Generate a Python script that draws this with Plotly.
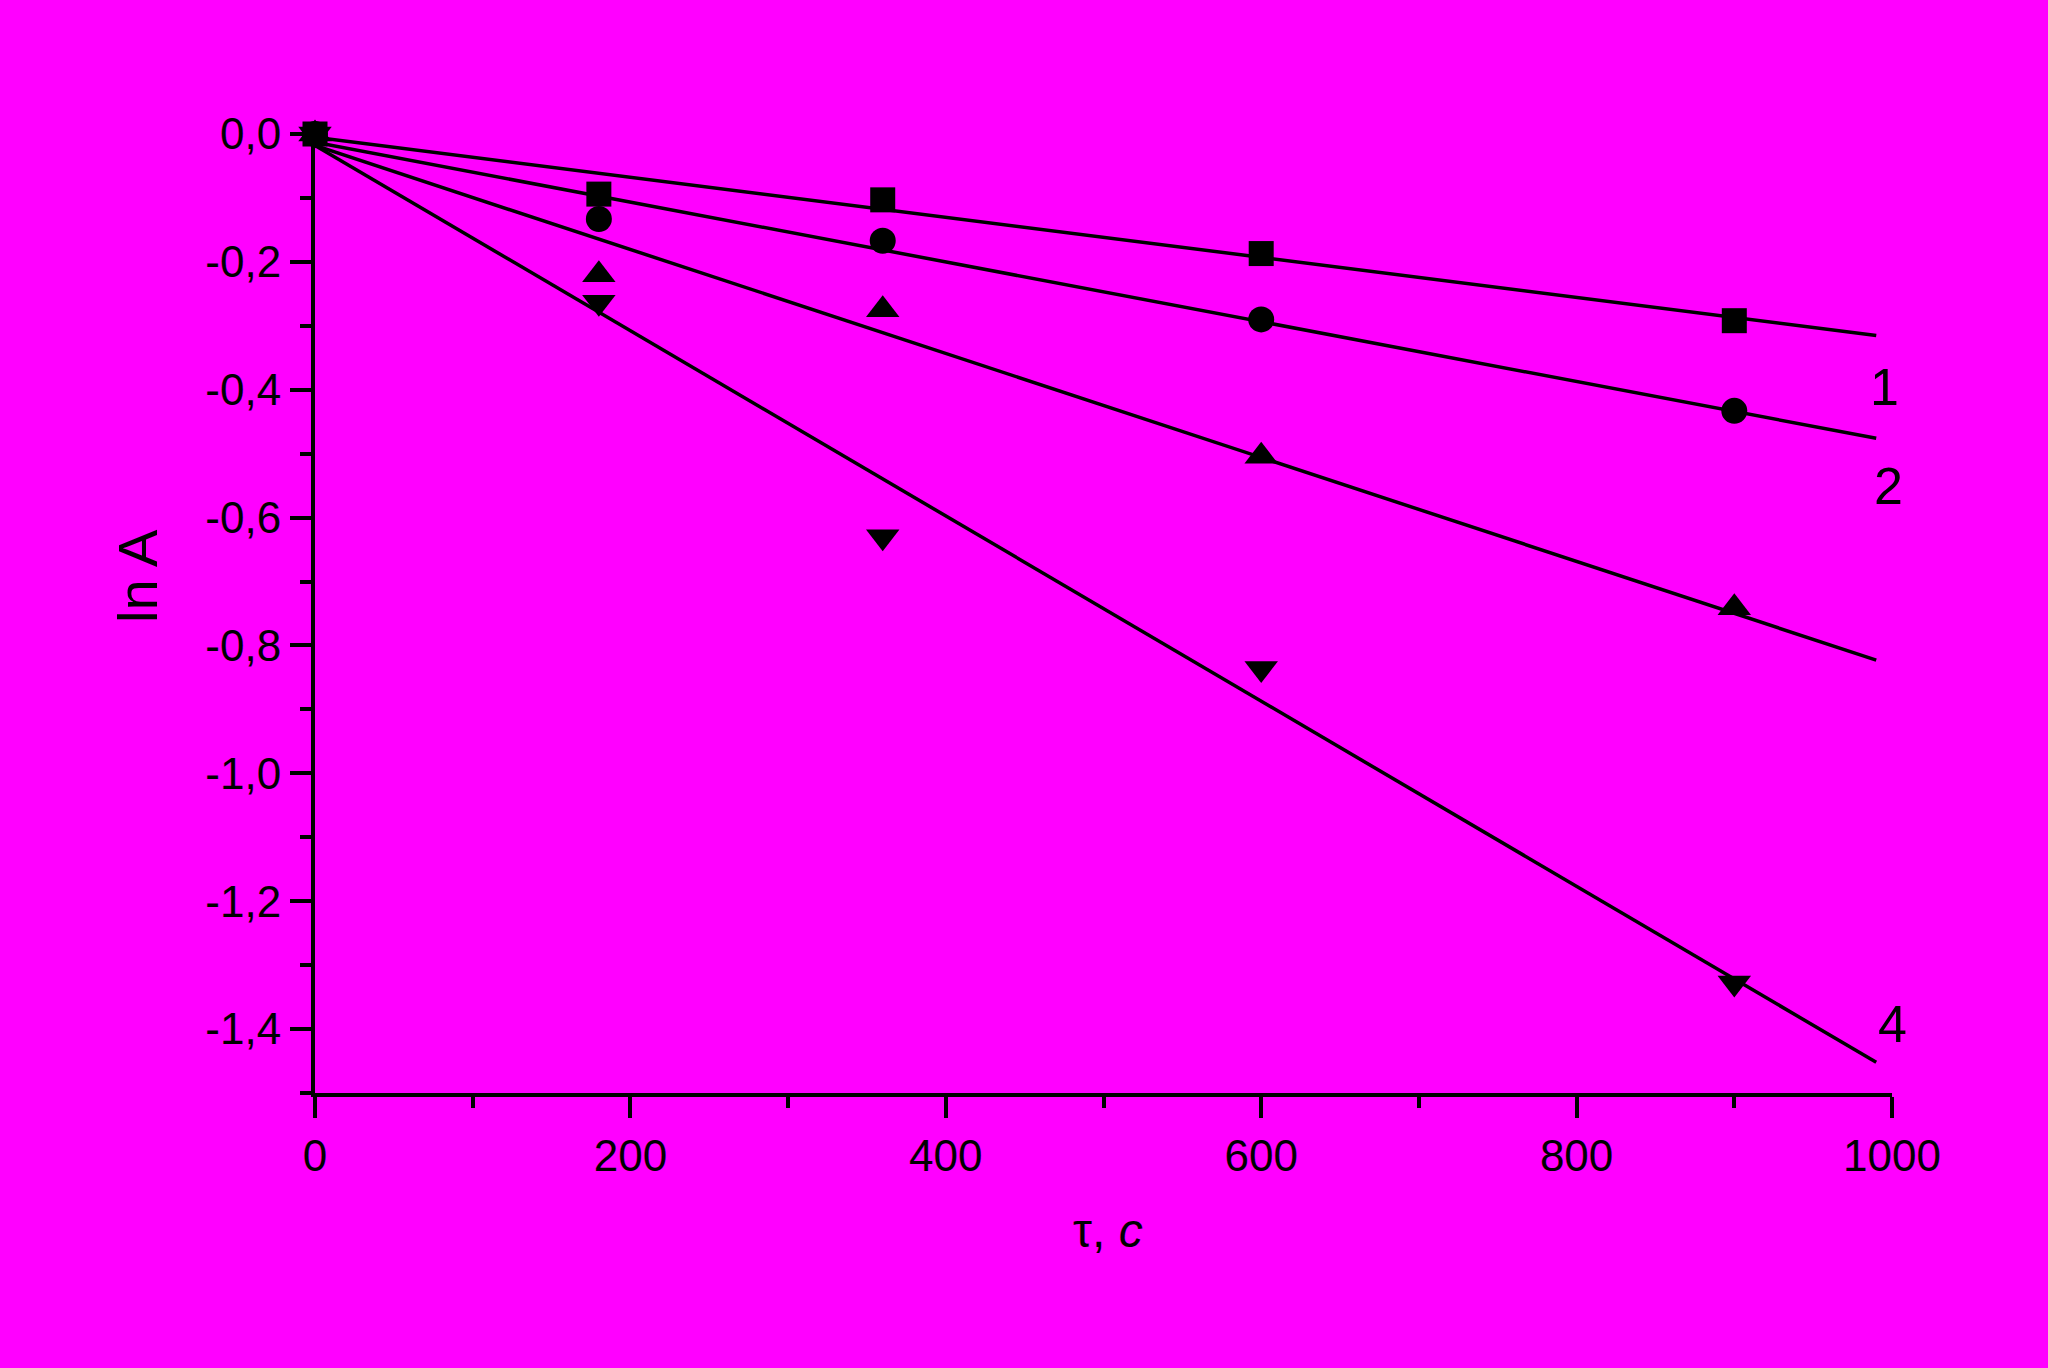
import plotly.graph_objects as go

# ---- data ----
t = [0, 180, 360, 600, 900]
s1 = [0.0, -0.094, -0.103, -0.187, -0.292]   # squares
s2 = [0.0, -0.133, -0.167, -0.290, -0.433]   # circles
s3 = [0.0, -0.220, -0.275, -0.504, -0.741]   # up triangles
s4 = [0.0, -0.263, -0.630, -0.836, -1.328]   # down triangles

# linear fit lines (end points)
fit_t = [0, 990]
fit1 = [-0.005, -0.315]
fit2 = [-0.013, -0.476]
fit3 = [-0.018, -0.823]
fit4 = [-0.018, -1.452]

curve_labels = ["1", "2", "3", "4"]
label_t = [995, 998, 1001, 1000]
label_y = [-0.395, -0.550, -0.853, -1.392]

x_ticks = [0, 200, 400, 600, 800, 1000]
x_ticktext = ["0", "200", "400", "600", "800", "1000"]
x_minor = [100, 300, 500, 700, 900]
y_ticks = [0.0, -0.2, -0.4, -0.6, -0.8, -1.0, -1.2, -1.4]
y_ticktext = ["0,0", "-0,2", "-0,4", "-0,6", "-0,8", "-1,0", "-1,2", "-1,4"]
y_minor = [-0.1, -0.3, -0.5, -0.7, -0.9, -1.1, -1.3, -1.5]

BG = "#FF00FF"
FONT = "Arial, Liberation Sans, sans-serif"

fig = go.Figure()

for fy in [fit1, fit2, fit3, fit4]:
    fig.add_trace(go.Scatter(x=fit_t, y=fy, mode="lines",
                             line=dict(color="black", width=3.5),
                             showlegend=False, hoverinfo="skip",
                             cliponaxis=False))

for ys, sym, sz in [(s1, "square", 25), (s2, "circle", 26),
                    (s3, "triangle-up", 29), (s4, "triangle-down", 29)]:
    fig.add_trace(go.Scatter(x=t, y=ys, mode="markers",
                             marker=dict(symbol=sym, size=sz, color="black",
                                         line=dict(width=0)),
                             showlegend=False, cliponaxis=False))

for lab, lx, ly in zip(curve_labels, label_t, label_y):
    fig.add_annotation(x=lx, y=ly, xref="x", yref="y", text=lab,
                       showarrow=False, xanchor="center", yanchor="middle",
                       font=dict(family=FONT, size=52, color="black"))

# axis titles
fig.add_annotation(x=-0.1129, y=0.539, xref="paper", yref="paper",
                   text="ln A", textangle=-90, showarrow=False,
                   xanchor="center", yanchor="middle",
                   font=dict(family=FONT, size=56, color="black"))
fig.add_annotation(x=0.503, y=-0.1429, xref="paper", yref="paper",
                   text="τ, <i>с</i>", showarrow=False,
                   xanchor="center", yanchor="middle",
                   font=dict(family=FONT, size=48, color="black"))

axis_common = dict(showgrid=False, zeroline=False, showline=True,
                   linecolor="black", linewidth=4, mirror=False,
                   ticks="outside", ticklen=21, tickwidth=4, tickcolor="black",
                   tickfont=dict(family=FONT, size=44, color="black"))

fig.update_xaxes(range=[0, 1000], tickmode="array", tickvals=x_ticks,
                 ticktext=x_ticktext,
                 minor=dict(tickmode="array", tickvals=x_minor, ticks="outside",
                            ticklen=11, tickwidth=4, tickcolor="black"),
                 **axis_common)
fig.update_yaxes(range=[-1.5, 0.0], tickmode="array", tickvals=y_ticks,
                 ticktext=y_ticktext,
                 minor=dict(tickmode="array", tickvals=y_minor, ticks="outside",
                            ticklen=11, tickwidth=4, tickcolor="black"),
                 **axis_common)

fig.update_layout(width=2048, height=1368,
                  margin=dict(l=315, r=156, t=134, b=275, autoexpand=False),
                  paper_bgcolor=BG, plot_bgcolor=BG,
                  font=dict(family=FONT, color="black"))

fig.write_html(
    "out.html",
    config={"displayModeBar": False},
    post_script="document.body.style.margin='0';"
                "document.body.style.padding='0';"
                "document.body.style.background='#FF00FF';"
                "document.documentElement.style.overflow='hidden';",
)
